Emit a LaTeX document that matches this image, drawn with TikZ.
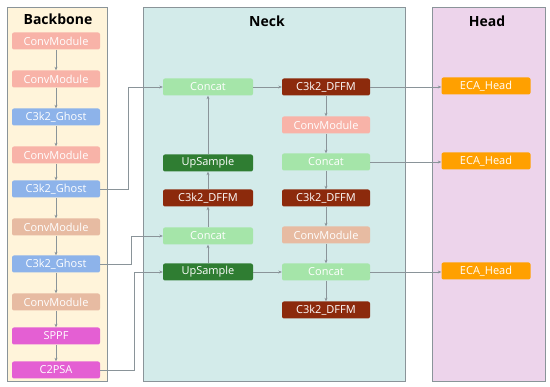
\documentclass[tikz,border=0pt]{standalone}
\usepackage{fontspec}
\setmainfont{Open Sans}
\usetikzlibrary{arrows.meta,positioning}
\definecolor{Grey}{HTML}{8A9499}
\definecolor{BackFill}{HTML}{FFF4DA}
\definecolor{NeckFill}{HTML}{D3EBEA}
\definecolor{HeadFill}{HTML}{EDD4EB}
\definecolor{Conv}{HTML}{F8B3A8}
\definecolor{ConvTan}{HTML}{E7BBA2}
\definecolor{Ghost}{HTML}{8DB3EA}
\definecolor{Magenta}{HTML}{E45FD3}
\definecolor{ConcatGreen}{HTML}{A5E5A9}
\definecolor{UpGreen}{HTML}{2F7D32}
\definecolor{Dffm}{HTML}{8C2A0C}
\definecolor{Orange}{HTML}{FFA000}

\begin{document}
\begin{tikzpicture}[x=1pt,y=-1pt,
          block/.style={rounded corners=2pt,minimum width=88pt,minimum height=17pt,
            inner sep=0pt,text=white,font=\fontsize{11}{13}\selectfont},
          panel/.style={draw=Grey,line width=0.7pt,anchor=north west,minimum height=374pt},
          title/.style={font=\fontsize{14}{16}\selectfont\bfseries},
          flow/.style={-{Stealth[length=3.5pt,width=3pt]},draw=Grey,line width=0.5pt}]
        \useasboundingbox (0,0) rectangle (550,387);
        % panels
        \node[panel,fill=BackFill,minimum width=100pt] (backbone) at (7,7) {};
        \node[panel,fill=NeckFill,minimum width=262pt] (neck) at (143,7) {};
        \node[panel,fill=HeadFill,minimum width=113pt] (head) at (432,7) {};
        \node[title] (tback) at (58,19) {Backbone};
        \node[title] (tneck) at (267,21) {Neck};
        \node[title] (thead) at (487,21) {Head};
        % backbone
        \node[block,fill=Conv] (b1) at (56,41) {ConvModule};
        \node[block,fill=Conv] (b2) at (56,79) {ConvModule};
        \node[block,fill=Ghost] (b3) at (56,117) {C3k2\_Ghost};
        \node[block,fill=Conv] (b4) at (56,155) {ConvModule};
        \node[block,fill=Ghost] (b5) at (56,189) {C3k2\_Ghost};
        \node[block,fill=ConvTan] (b6) at (56,227) {ConvModule};
        \node[block,fill=Ghost] (b7) at (56,264) {C3k2\_Ghost};
        \node[block,fill=ConvTan] (b8) at (56,302) {ConvModule};
        \node[block,fill=Magenta] (sppf) at (56,336) {SPPF};
        \node[block,fill=Magenta] (c2psa) at (56,370) {C2PSA};
        \foreach \a/\b in {b1/b2,b2/b3,b3/b4,b4/b5,b5/b6,b6/b7,b7/b8,b8/sppf,sppf/c2psa}
          \draw[flow] (\a) -- (\b);
        % neck, left column
        \node[block,fill=ConcatGreen,minimum width=90pt] (cat1) at (208,87) {Concat};
        \node[block,fill=UpGreen,minimum width=90pt] (up1) at (208,163) {UpSample};
        \node[block,fill=Dffm,minimum width=90pt] (dffm1) at (208,198) {C3k2\_DFFM};
        \node[block,fill=ConcatGreen,minimum width=90pt] (cat2) at (208,236) {Concat};
        \node[block,fill=UpGreen,minimum width=90pt] (up2) at (208,272) {UpSample};
        % neck, right column
        \node[block,fill=Dffm] (dffm2) at (326,87) {C3k2\_DFFM};
        \node[block,fill=Conv] (conv1) at (326,125) {ConvModule};
        \node[block,fill=ConcatGreen] (cat3) at (326,162) {Concat};
        \node[block,fill=Dffm] (dffm3) at (326,198) {C3k2\_DFFM};
        \node[block,fill=ConvTan] (conv2) at (326,235) {ConvModule};
        \node[block,fill=ConcatGreen] (cat4) at (326,272) {Concat};
        \node[block,fill=Dffm] (dffm4) at (326,310) {C3k2\_DFFM};
        % head
        \node[block,fill=Orange,minimum width=89pt] (eca1) at (486,86) {ECA\_Head};
        \node[block,fill=Orange,minimum width=89pt] (eca2) at (486,161) {ECA\_Head};
        \node[block,fill=Orange,minimum width=89pt] (eca3) at (486,271) {ECA\_Head};
        % links
        \foreach \a/\b in {up2/cat2,cat2/dffm1,dffm1/up1,up1/cat1,cat1/dffm2,
            dffm2/conv1,conv1/cat3,cat3/dffm3,dffm3/conv2,conv2/cat4,cat4/dffm4,up2/cat4}
          \draw[flow] (\a) -- (\b);
        \coordinate (k1) at (128,189);
        \coordinate (k2) at (131,264);
        \coordinate (k3) at (134,370);
        \draw[flow] (b5.east) -- (k1) |- (cat1.west);
        \draw[flow] (b7.east) -- (k2) |- (cat2.west);
        \draw[flow] (c2psa.east) -- (k3) |- (up2.west);
        \draw[flow] (dffm2.east) -- (eca1.west |- dffm2.east);
        \draw[flow] (cat3.east) -- (eca2.west |- cat3.east);
        \draw[flow] (cat4.east) -- (eca3.west |- cat4.east);
      \end{tikzpicture}
\end{document}
